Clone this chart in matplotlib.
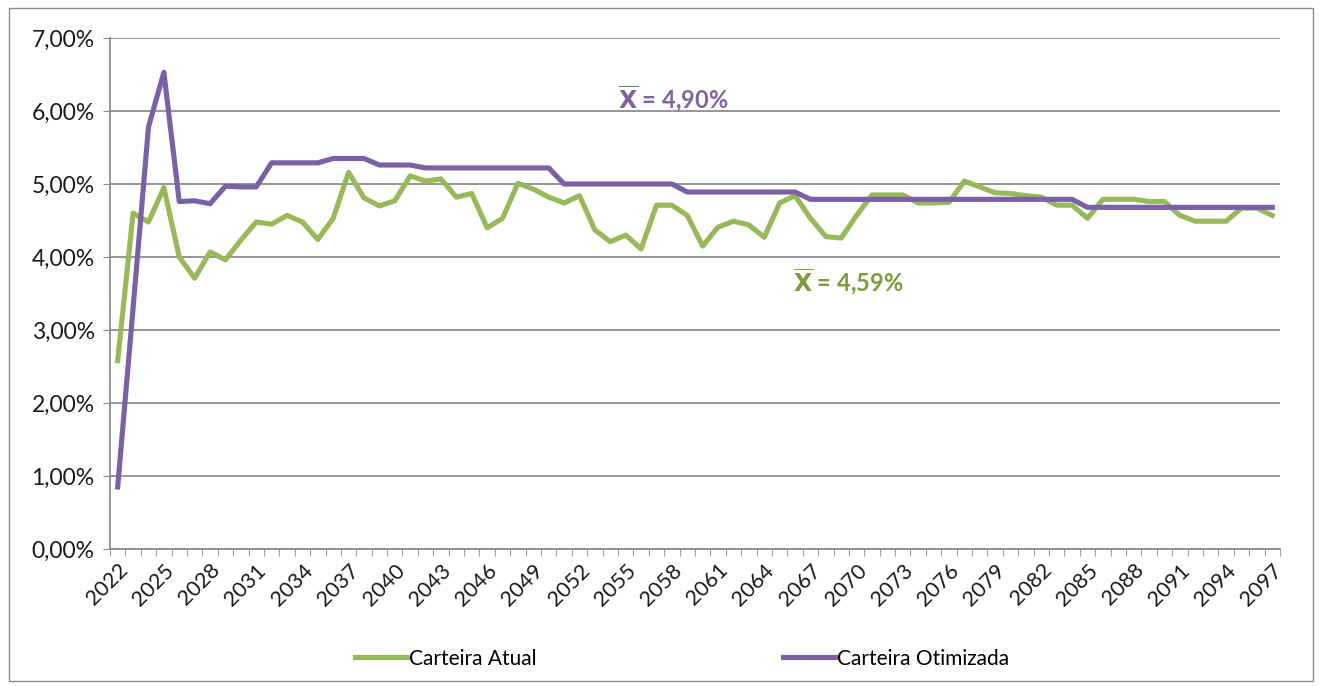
import matplotlib.pyplot as plt
from matplotlib.patches import Rectangle
from matplotlib.ticker import FixedLocator, FuncFormatter

# --- data (annual return, %) ---
years = list(range(2022, 2098))

carteira_atual = [
    2.58, 4.60, 4.48, 4.95, 4.00, 3.71, 4.07, 3.96, 4.23, 4.48,
    4.45, 4.57, 4.48, 4.24, 4.53, 5.16, 4.81, 4.70, 4.77, 5.11,
    5.04, 5.07, 4.82, 4.87, 4.40, 4.53, 5.01, 4.93, 4.82, 4.74,
    4.84, 4.37, 4.21, 4.30, 4.11, 4.71, 4.71, 4.57, 4.15, 4.41,
    4.49, 4.44, 4.27, 4.74, 4.84, 4.53, 4.28, 4.26, 4.57, 4.85,
    4.85, 4.85, 4.74, 4.74, 4.75, 5.04, 4.96, 4.88, 4.87, 4.84,
    4.82, 4.71, 4.71, 4.53, 4.79, 4.79, 4.79, 4.76, 4.76, 4.57,
    4.49, 4.49, 4.49, 4.67, 4.67, 4.57,
]

carteira_otimizada = [
    0.85, 3.30, 5.78, 6.53, 4.76, 4.77, 4.73, 4.97, 4.96, 4.96,
    5.29, 5.29, 5.29, 5.29, 5.35, 5.35, 5.35, 5.26, 5.26, 5.26,
    5.22, 5.22, 5.22, 5.22, 5.22, 5.22, 5.22, 5.22, 5.22, 5.00,
    5.00, 5.00, 5.00, 5.00, 5.00, 5.00, 5.00, 4.89, 4.89, 4.89,
    4.89, 4.89, 4.89, 4.89, 4.89, 4.79, 4.79, 4.79, 4.79, 4.79,
    4.79, 4.79, 4.79, 4.79, 4.79, 4.79, 4.79, 4.79, 4.79, 4.79,
    4.79, 4.79, 4.79, 4.68, 4.68, 4.68, 4.68, 4.68, 4.68, 4.68,
    4.68, 4.68, 4.68, 4.68, 4.68, 4.68,
]

label_years = years[::3]
mean_atual = "4,59%"
mean_otimizada = "4,90%"

GREEN = '#97b95a'
PURPLE = '#7b60a6'
GREEN_TXT = '#7a9c3c'
PURPLE_TXT = '#8064a2'
GRID = '#8c8c8c'

plt.rcParams['font.family'] = ['Lato', 'DejaVu Sans']

fig = plt.figure(figsize=(13.22, 6.86), dpi=100)
ax = fig.add_axes([0.0832, 0.1997, 0.8850, 0.7449])

ax.plot(years, carteira_atual, color=GREEN, lw=3.7, label='Carteira Atual',
        solid_joinstyle='round', zorder=3)
ax.plot(years, carteira_otimizada, color=PURPLE, lw=3.7, label='Carteira Otimizada',
        solid_joinstyle='round', zorder=3)

ax.set_xlim(years[0] - 0.5, years[-1] + 0.5)
ax.set_ylim(0, 7)
ax.set_yticks(range(0, 8))
ax.yaxis.set_major_formatter(FuncFormatter(lambda v, _: f"{v:.2f}".replace('.', ',') + '%'))
ax.grid(axis='y', color=GRID, lw=1.3)
ax.set_axisbelow(True)

ax.xaxis.set_major_locator(FixedLocator(label_years))
ax.set_xticklabels([str(y) for y in label_years], rotation=45, ha='right',
                   rotation_mode='anchor')
ax.xaxis.set_minor_locator(FixedLocator([y - 0.5 for y in years] + [years[-1] + 0.5]))
ax.tick_params(axis='x', which='major', length=0, pad=8, labelsize=15.5)
ax.tick_params(axis='x', which='minor', length=5, color=GRID)
ax.tick_params(axis='y', length=5, color=GRID, labelsize=16.5, pad=6)
ax.tick_params(axis='both', labelcolor='#1a1a1a')

for side in ('top', 'right'):
    ax.spines[side].set_visible(False)
for side in ('left', 'bottom'):
    ax.spines[side].set_color(GRID)
    ax.spines[side].set_linewidth(1.3)

ax.text(2054.5, 6.17, r'$\overline{\mathbf{X}}$' + f' = {mean_otimizada}', color=PURPLE_TXT,
        fontsize=17, fontweight='bold', ha='left', va='center')
ax.text(2065.9, 3.67, r'$\overline{\mathbf{X}}$' + f' = {mean_atual}', color=GREEN_TXT,
        fontsize=17, fontweight='bold', ha='left', va='center')

fig.legend(loc='center', bbox_to_anchor=(0.516, 0.04), ncol=2, frameon=False,
           fontsize=15, handlelength=2.5, handletextpad=0.1, columnspacing=11.8)

fig.patches.append(Rectangle((0.007, 0.008), 0.986, 0.98, transform=fig.transFigure,
                             fill=False, edgecolor='#8c8c8c', lw=1.0))

fig.savefig('out.png', dpi=100)
